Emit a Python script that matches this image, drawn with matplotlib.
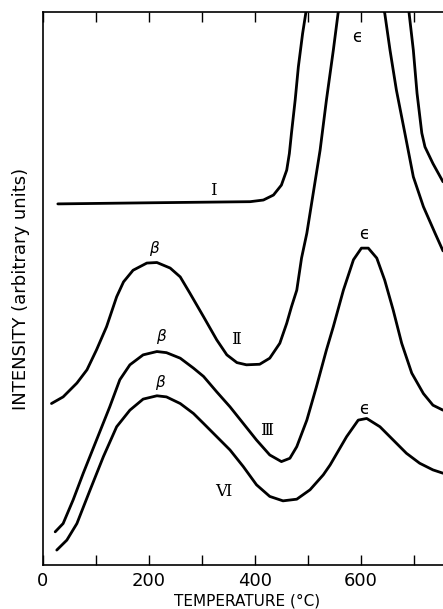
import matplotlib
matplotlib.use("Agg")
import matplotlib.pyplot as plt
from matplotlib.ticker import MultipleLocator

# Thermal desorption traces: intensity (arbitrary units) against temperature (degC)
temp_I = [28, 202, 391, 416, 435, 450, 460, 465, 469, 476, 482, 490, 496, 520, 595,
          670, 691, 699, 706, 715, 721, 736, 755]
int_I = [65.3, 65.5, 65.7, 66.0, 66.9, 68.7, 71.4, 74.4, 78.1, 84.1, 90.1, 96.1, 99.8,
         115, 128, 115, 99.8, 93.1, 85.3, 78.1, 75.6, 72.6, 69.3]

temp_II = [16, 38, 64, 83, 101, 120, 139, 152, 170, 196, 215, 240, 259, 277, 303,
           328, 347, 366, 384, 409, 428, 447, 460, 469, 479, 488, 498, 510, 523, 535,
           548, 557, 600, 645, 655, 667, 683, 699, 718, 740, 755]
int_II = [29.2, 30.4, 32.9, 35.3, 38.9, 43.1, 48.5, 51.2, 53.3, 54.6, 54.7, 53.7, 52.1,
          49.2, 44.9, 40.7, 38.0, 36.6, 36.2, 36.3, 37.4, 40.1, 43.7, 46.7, 49.7, 55.5,
          60.0, 67.2, 75.0, 84.1, 93.1, 99.8, 112, 99.8, 93.1, 85.9, 78.1, 70.2, 64.8,
          60.0, 56.8]

temp_III = [23, 38, 57, 76, 101, 126, 145, 164, 189, 215, 233, 259, 284, 303, 328, 353,
            378, 403, 428, 450, 466, 479, 498, 516, 535, 548, 567, 586, 601, 614, 630,
            645, 661, 677, 696, 718, 736, 755]
int_III = [6.0, 7.5, 11.8, 16.6, 22.6, 28.6, 33.5, 36.2, 38.0, 38.6, 38.4, 37.4, 35.6,
           34.1, 31.3, 28.6, 25.6, 22.6, 19.9, 18.7, 19.3, 21.4, 26.2, 32.2, 38.9, 43.1,
           49.7, 55.2, 57.3, 57.3, 55.5, 51.5, 46.1, 40.1, 34.7, 31.0, 28.9, 28.0]

temp_VI = [26, 45, 64, 89, 114, 139, 164, 189, 215, 233, 259, 284, 303, 328, 353, 378,
           403, 428, 453, 479, 504, 529, 542, 573, 595, 611, 636, 661, 686, 711, 736, 755]
int_VI = [2.7, 4.5, 7.5, 13.6, 19.6, 25.0, 28.0, 30.0, 30.6, 30.4, 29.2, 27.4, 25.6,
          23.2, 20.8, 17.8, 14.5, 12.4, 11.6, 11.9, 13.6, 16.3, 18.1, 23.2, 26.2, 26.5,
          25.0, 22.6, 20.2, 18.4, 17.2, 16.6]

# Curve labels: (text, temperature, intensity)
curve_labels = [("I", 321, 67.8), ("Ⅱ", 364, 40.8), ("Ⅲ", 423, 24.4), ("Ⅵ", 340, 13.3)]
beta_labels = [(211, 57.3), (224, 41.3), (222, 33.0)]
eps_labels = [(593, 95.5), (607, 59.9), (607, 28.3)]

fig = plt.figure(figsize=(4.43, 6.09), dpi=100)
ax = fig.add_axes([43 / 443, 44 / 609, 1 - 43 / 443, 553 / 609])

for t, v in [(temp_I, int_I), (temp_II, int_II), (temp_III, int_III), (temp_VI, int_VI)]:
    ax.plot(t, v, color="black", lw=2.0, solid_joinstyle="round", solid_capstyle="round")

for txt, t, v in curve_labels:
    ax.text(t, v, txt, ha="center", va="center", fontsize=12, family="DejaVu Serif")
for t, v in beta_labels:
    ax.text(t, v, r"$\beta$", ha="center", va="center", fontsize=11)
for t, v in eps_labels:
    ax.text(t, v, "ϵ", ha="center", va="center", fontsize=12)

ax.set_xlim(0, 755)
ax.set_ylim(0, 100)
ax.spines["right"].set_visible(False)
for s in ["left", "bottom", "top"]:
    ax.spines[s].set_linewidth(1.2)

ax.xaxis.set_major_locator(MultipleLocator(200))
ax.xaxis.set_minor_locator(MultipleLocator(100))
ax.tick_params(axis="x", which="both", direction="in", top=True, length=7, width=1.0,
               labelsize=13, pad=5)
ax.set_yticks([])

ax.set_xlabel("TEMPERATURE (°C)", fontsize=11, labelpad=0)
ax.xaxis.set_label_coords(385 / 755, -0.052)
ax.set_ylabel("INTENSITY (arbitrary units)", fontsize=13, labelpad=9)

fig.savefig("out.png", dpi=100)
